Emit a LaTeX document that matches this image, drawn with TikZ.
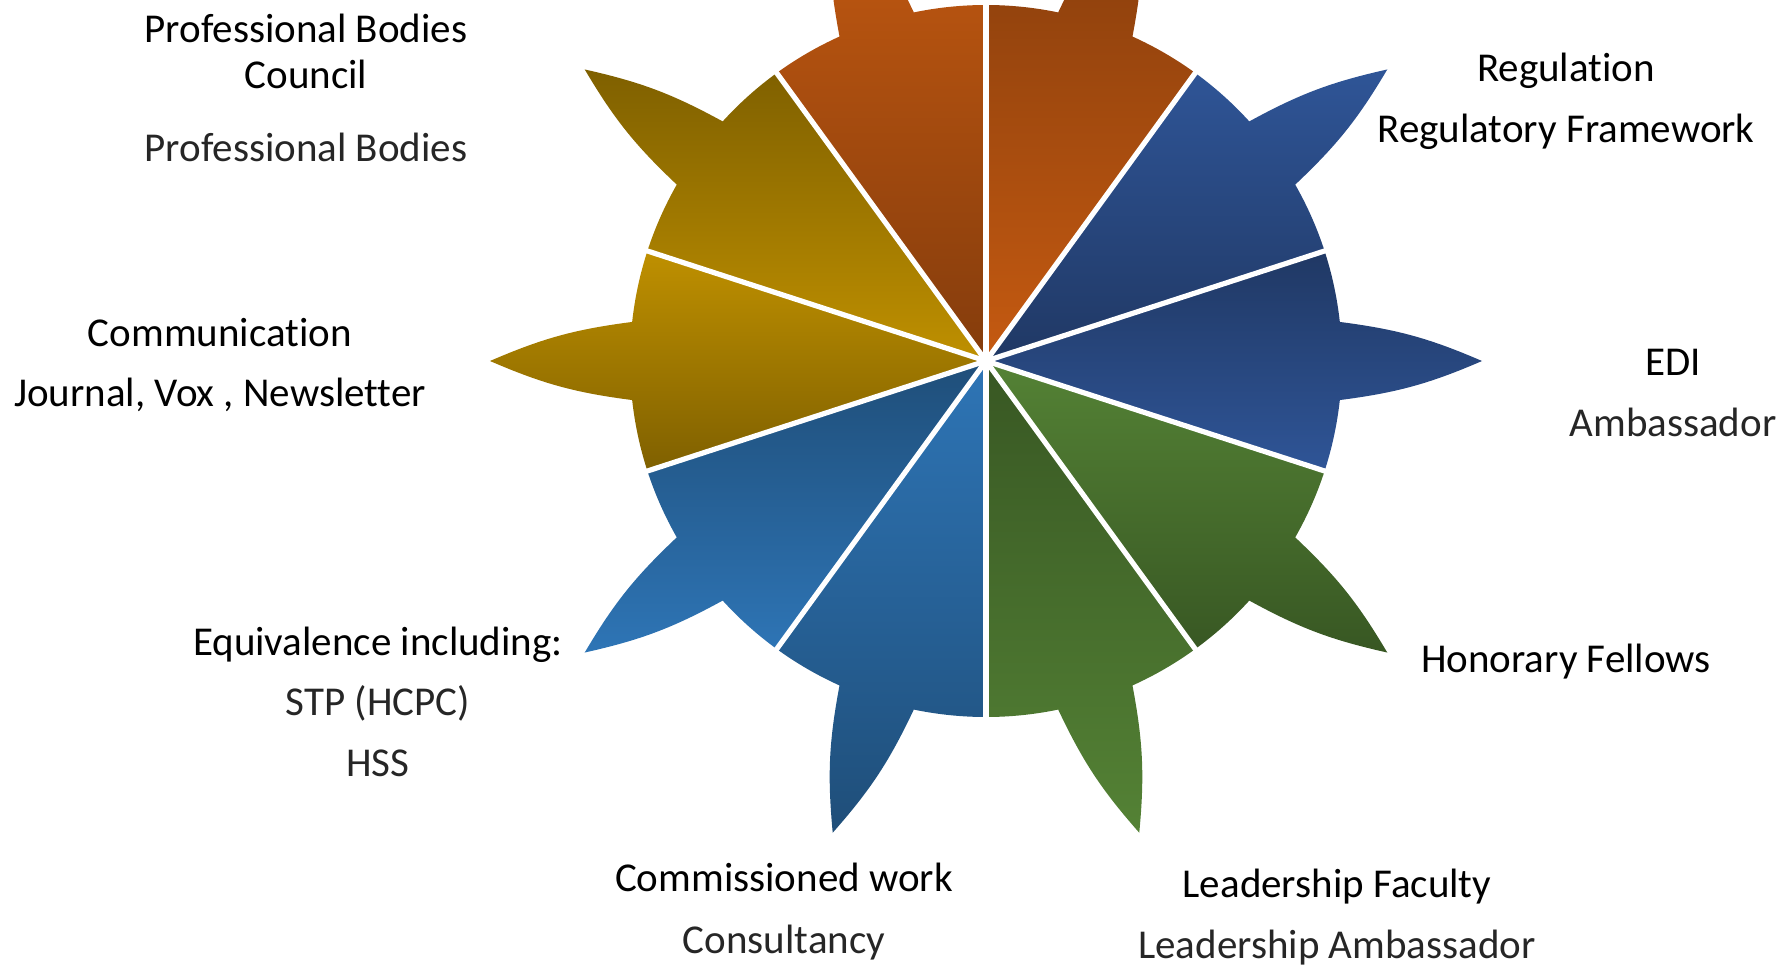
\documentclass[tikz,border=0pt]{standalone}
\usepackage{fontspec}
\setmainfont{Carlito}[Ligatures=CommonOff]
\usepackage{tikz}

\definecolor{orangeL}{HTML}{C55A11}
\definecolor{orangeD}{HTML}{843C0C}
\definecolor{navyL}{HTML}{2F5597}
\definecolor{navyD}{HTML}{203864}
\definecolor{greenL}{HTML}{548235}
\definecolor{greenD}{HTML}{385723}
\definecolor{blueL}{HTML}{2E75B6}
\definecolor{blueD}{HTML}{1F4E79}
\definecolor{goldL}{HTML}{BF9000}
\definecolor{goldD}{HTML}{7F6000}

% one petal of the wheel: mid angle, top colour, bottom colour
\newcommand{\petal}[3]{%
  \shade [top color=#2, bottom color=#3] (0,0) -- (#1-18:356)
    arc [start angle=#1-18, end angle=#1-6.3, radius=356]
    to [bend right=8] (#1:496)
    to [bend right=8] (#1+6.3:356)
    arc [start angle=#1+6.3, end angle=#1+18, radius=356] -- cycle;}

\begin{document}
\begin{tikzpicture}[x=0.5pt,y=0.5pt]
\tikzstyle{heading} = [font=\fontsize{20.5}{23}\selectfont, text height=15pt, text depth=5pt, inner sep=0pt]
\tikzstyle{light} = [heading, text=black!85]
\tikzstyle{divider} = [white, line width=2.6pt]

\useasboundingbox (-986,-612) rectangle (806,361);
\clip (-986,-612) rectangle (806,361);

%petals
\petal{108}{orangeL}{orangeD}
\petal{72}{orangeD}{orangeL}
\petal{36}{navyL}{navyD}
\petal{0}{navyD}{navyL}
\petal{-36}{greenL}{greenD}
\petal{-72}{greenD}{greenL}
\petal{-108}{blueL}{blueD}
\petal{-144}{blueD}{blueL}
\petal{180}{goldL}{goldD}
\petal{144}{goldD}{goldL}

%dividers
\draw [divider] (90:362) -- (-90:362);
\draw [divider] (54:362) -- (-126:362);
\draw [divider] (18:362) -- (-162:362);
\draw [divider] (-18:362) -- (162:362);
\draw [divider] (-54:362) -- (126:362);

%labels
\node (probod) [heading] at (-680,328) {Professional Bodies};
\node (council) [heading, node distance=23pt, below of=probod] {Council};
\node (probodsub) [light, node distance=36.5pt, below of=council] {Professional Bodies};
\node (regul) [heading] at (580,289) {Regulation};
\node (regulsub) [heading, node distance=30.5pt, below of=regul] {Regulatory Framework};
\node (comm) [heading] at (-766,24) {Communication};
\node (commsub) [heading, node distance=30pt, below of=comm] {Journal, Vox , Newsletter};
\node (edi) [heading] at (687,-5) {EDI};
\node (edisub) [light, node distance=30.5pt, below of=edi] {Ambassador};
\node (honor) [heading] at (580,-301) {Honorary Fellows};
\node (equiv) [heading] at (-608,-284) {Equivalence including:};
\node (stp) [light, node distance=30pt, below of=equiv] {STP (HCPC)};
\node (hss) [light, node distance=30.5pt, below of=stp] {HSS};
\node (commis) [heading] at (-202,-520) {Commissioned work};
\node (commissub) [light, node distance=31pt, below of=commis] {Consultancy};
\node (lead) [heading] at (351,-526) {Leadership Faculty};
\node (leadsub) [light, node distance=30.5pt, below of=lead] {Leadership Ambassador};
\end{tikzpicture}
\end{document}
